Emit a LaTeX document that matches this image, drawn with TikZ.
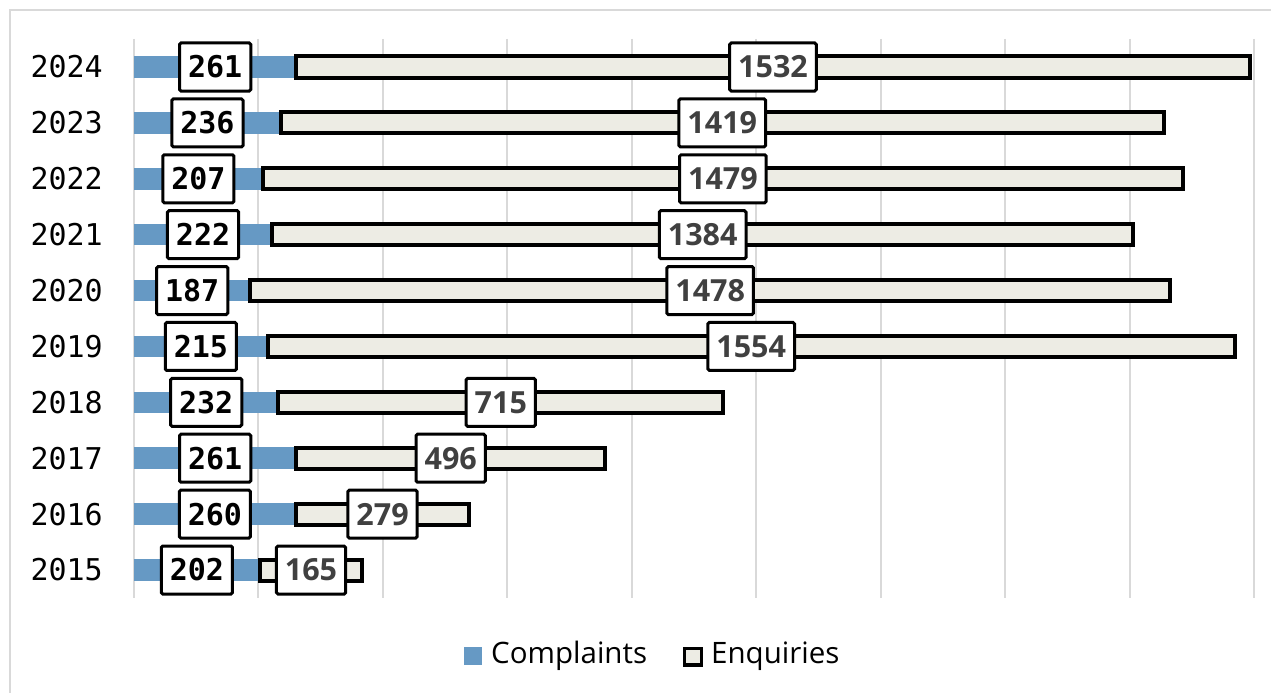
\documentclass[tikz,border=0pt]{standalone}
\usepackage{fontspec}
\setmainfont{Open Sans}
\newfontfamily\monofam{DejaVu Sans Mono}
\definecolor{cblue}{RGB}{102,153,196}
\definecolor{etan}{RGB}{237,236,228}
\definecolor{gridgray}{RGB}{217,217,217}
\definecolor{labgray}{RGB}{64,64,64}
\begin{document}
\begin{tikzpicture}[x=1pt,y=-1pt,
  frame/.style={draw=gridgray,line width=1.5pt},
  gridln/.style={draw=gridgray,line width=2pt},
  cbar/.style={fill=cblue,draw=none},
  ebar/.style={fill=etan,draw=black,line width=4pt},
  labbox/.style={draw=black,fill=white,line width=3pt,rounded corners=1.5pt,
    minimum height=48pt,inner xsep=8.5pt,inner ysep=0pt},
  clab/.style={labbox,text=black,font=\monofam\bfseries\fontsize{30}{32}\selectfont},
  elab/.style={labbox,text=labgray,font=\bfseries\fontsize{30.5}{32}\selectfont},
  yearlab/.style={anchor=east,inner sep=0pt,font=\monofam\fontsize{30}{32}\selectfont},
  legtext/.style={anchor=west,inner sep=0pt,font=\fontsize{29.5}{32}\selectfont}]
\useasboundingbox (0,0) rectangle (1271,693);
\fill[white] (0,0) rectangle (1271,693);
% outer frame (right and bottom edges lie outside the picture)
\coordinate (fbl) at (10,693);
\coordinate (ftl) at (10,10);
\coordinate (ftr) at (1271,10);
\draw[frame] (fbl) -- (ftl) -- (ftr);
% gridlines
\foreach \g in {0,...,9}{
  \coordinate (gt\g) at ({134+\g*124.44},39);
  \coordinate (gb\g) at ({134+\g*124.44},598);
  \draw[gridln] (gt\g) -- (gb\g);
}
% bars and labels
\foreach \yr/\c/\e [count=\i from 0] in {2024/261/1532,2023/236/1419,2022/207/1479,2021/222/1384,2020/187/1478,2019/215/1554,2018/232/715,2017/261/496,2016/260/279,2015/202/165}{
  \pgfmathsetmacro\y{67+\i*55.89}
  \pgfmathsetmacro\xc{134+\c*0.6222}
  \pgfmathsetmacro\xe{134+(\c+\e)*0.6222}
  \node[yearlab] (y\yr) at (103,\y) {\yr};
  \fill[cbar] (134,\y-10.8) rectangle (\xc,\y+10.8);
  \draw[ebar] (\xc,\y-10.5) rectangle (\xe,\y+10.5);
  \node[clab] (c\yr) at ({(134+\xc)/2},\y) {\c};
  \node[elab] (e\yr) at ({(\xc+\xe)/2},\y) {\e};
}
% legend
\fill[cbar] (464,647) rectangle (482,665);
\node[legtext] (lc) at (491,656) {Complaints};
\draw[fill=etan,draw=black,line width=3.5pt] (684.5,648.5) rectangle (701.5,665);
\node[legtext] (le) at (711,656) {Enquiries};
\end{tikzpicture}
\end{document}
